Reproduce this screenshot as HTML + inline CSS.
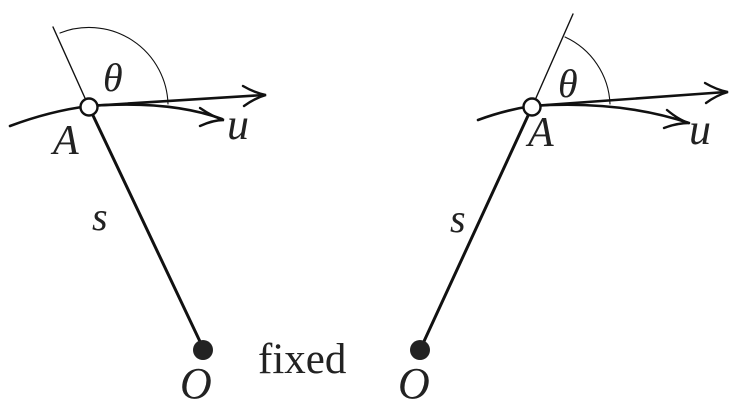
<!DOCTYPE html>
<html><head><meta charset="utf-8"><style>
html,body{margin:0;padding:0;background:#fff;}
svg{display:block;}
text{font-family:"Liberation Serif",serif;fill:#222;}
.it{font-style:italic;}
</style></head><body>
<svg width="740" height="416" viewBox="0 0 740 416" xmlns="http://www.w3.org/2000/svg">
<g fill="none" stroke="#111" stroke-linecap="round">
<line x1="89" y1="107" x2="53" y2="27" stroke-width="1.4"/>
<path d="M60,33 A79,79 0 0 1 168,104" stroke-width="1.1"/>
<line x1="204" y1="350" x2="89" y2="107" stroke-width="3"/>
<path d="M10,126 Q50,111 89,106 Q170,100 222,119" stroke-width="2.6"/>
<line x1="89" y1="106" x2="264" y2="95" stroke-width="2.6"/>
<path d="M243,86 Q255,93 266,95 Q255,98 244,106" stroke-width="2.4"/>
<path d="M200,108 Q213,117 224,120 Q213,120 200,126" stroke-width="2.4"/>
<line x1="532" y1="107" x2="573" y2="14" stroke-width="1.4"/>
<path d="M565,37 A77,77 0 0 1 610,104" stroke-width="1.1"/>
<line x1="420" y1="350" x2="532" y2="107" stroke-width="3"/>
<path d="M478,120 Q505,110 532,106 Q620,100 689,123" stroke-width="2.6"/>
<line x1="532" y1="106" x2="726" y2="92" stroke-width="2.6"/>
<path d="M705,83 Q717,90 728,92 Q717,95 706,103" stroke-width="2.4"/>
<path d="M667,110 Q679,120 689,123 Q677,123 664,128" stroke-width="2.4"/>
</g>
<circle cx="89" cy="107" r="8.5" fill="#fff" stroke="#111" stroke-width="2.4"/>
<circle cx="532" cy="107" r="8.5" fill="#fff" stroke="#111" stroke-width="2.4"/>
<circle cx="203" cy="350" r="10" fill="#222"/>
<circle cx="420" cy="350" r="10" fill="#222"/>
<text class="it" x="103" y="91" font-size="40">θ</text>
<text class="it" x="558" y="97" font-size="40">θ</text>
<text class="it" x="53" y="154" font-size="42">A</text>
<text class="it" x="528" y="146" font-size="42">A</text>
<text class="it" x="227" y="139" font-size="44">u</text>
<text class="it" x="689" y="144" font-size="44">u</text>
<text class="it" x="92" y="230" font-size="40">s</text>
<text class="it" x="450" y="232" font-size="40">s</text>
<text class="it" x="180" y="398" font-size="44">O</text>
<text class="it" x="398" y="398" font-size="44">O</text>
<text x="258" y="373" font-size="43">fixed</text>
</svg>
</body></html>
